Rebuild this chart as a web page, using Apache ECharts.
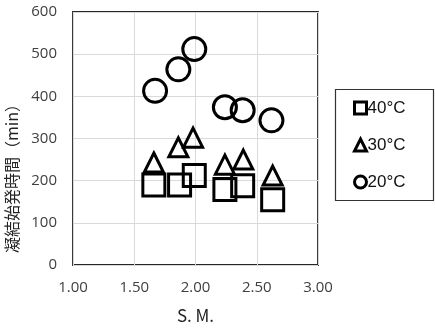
<!DOCTYPE html>
<html><head><meta charset="utf-8">
<script src="https://cdn.jsdelivr.net/npm/echarts@6/dist/echarts.min.js"></script>
<style>html,body{margin:0;padding:0;background:#fff}#c{width:435px;height:329px}</style>
</head><body><div id="c"></div>
<script>
const seriesNames = ['40°C', '30°C', '20°C'];
const data40 = [[1.66,190],[1.87,190],[1.99,212],[2.24,179],[2.385,188],[2.63,155]];
const data30 = [[1.66,243],[1.86,279],[1.98,302],[2.24,238],[2.39,250],[2.63,212]];
const data20 = [[1.67,413],[1.86,464],[1.99,512],[2.24,374],[2.385,367],[2.62,343]];
const xTicks = {min:1, max:3, interval:0.5};
const yTicks = {min:0, max:600, interval:100};

const chart = echarts.init(document.getElementById('c'));
const mk = (name, data, symbol, size) => ({
  name, type:'scatter', data, symbol, symbolSize:size,
  itemStyle:{color:'rgba(0,0,0,0)', borderColor:'#000', borderWidth:3, opacity:1},
  emphasis:{disabled:true}
});
chart.setOption({
  animation:false,
  grid:{left:73, top:12, right:117, bottom:64, outerBoundsMode:'none', containLabel:false,
    show:true, borderColor:'#262626', borderWidth:1.8, backgroundColor:'transparent'},
  xAxis:{type:'value', min:xTicks.min, max:xTicks.max, interval:xTicks.interval,
    name:'S. M.', nameLocation:'middle', nameGap:42,
    nameTextStyle:{fontFamily:'Noto Sans CJK JP', fontSize:17, color:'#222'},
    axisLine:{show:false}, axisTick:{show:false},
    axisLabel:{margin:15, fontFamily:'Open Sans', fontSize:15, color:'#404040', formatter:v=>v.toFixed(2)},
    splitLine:{lineStyle:{color:'#d9d9d9', width:1}}},
  yAxis:{type:'value', min:yTicks.min, max:yTicks.max, interval:yTicks.interval,
    name:'凝結始発時間（min）', nameLocation:'middle', nameGap:34, nameRotate:90,
    nameTextStyle:{fontFamily:'Noto Sans CJK JP', fontSize:16, color:'#222', padding:[10,72,0,0]},
    axisLine:{show:false}, axisTick:{show:false},
    axisLabel:{margin:16, fontFamily:'Open Sans', fontSize:15, color:'#404040'},
    splitLine:{lineStyle:{color:'#d9d9d9', width:1}}},
  graphic:[{type:'rect', left:333, top:87, shape:{width:98, height:111},
    style:{fill:'none', stroke:'#333', lineWidth:1.2}, silent:true}],
  legend:{orient:'vertical', left:333, top:87,
    data:seriesNames, padding:[11,20,6,20], itemGap:17,
    itemWidth:12, itemHeight:12, itemStyle:{borderWidth:3, opacity:1},
    textStyle:{fontFamily:'Liberation Sans', fontSize:17, color:'#111', lineHeight:20, padding:[0,0,0,-4]}},
  series:[
    mk(seriesNames[0], data40, 'rect', 22),
    mk(seriesNames[1], data30, 'triangle', 19),
    mk(seriesNames[2], data20, 'circle', 23)
  ]
});
</script></body></html>
